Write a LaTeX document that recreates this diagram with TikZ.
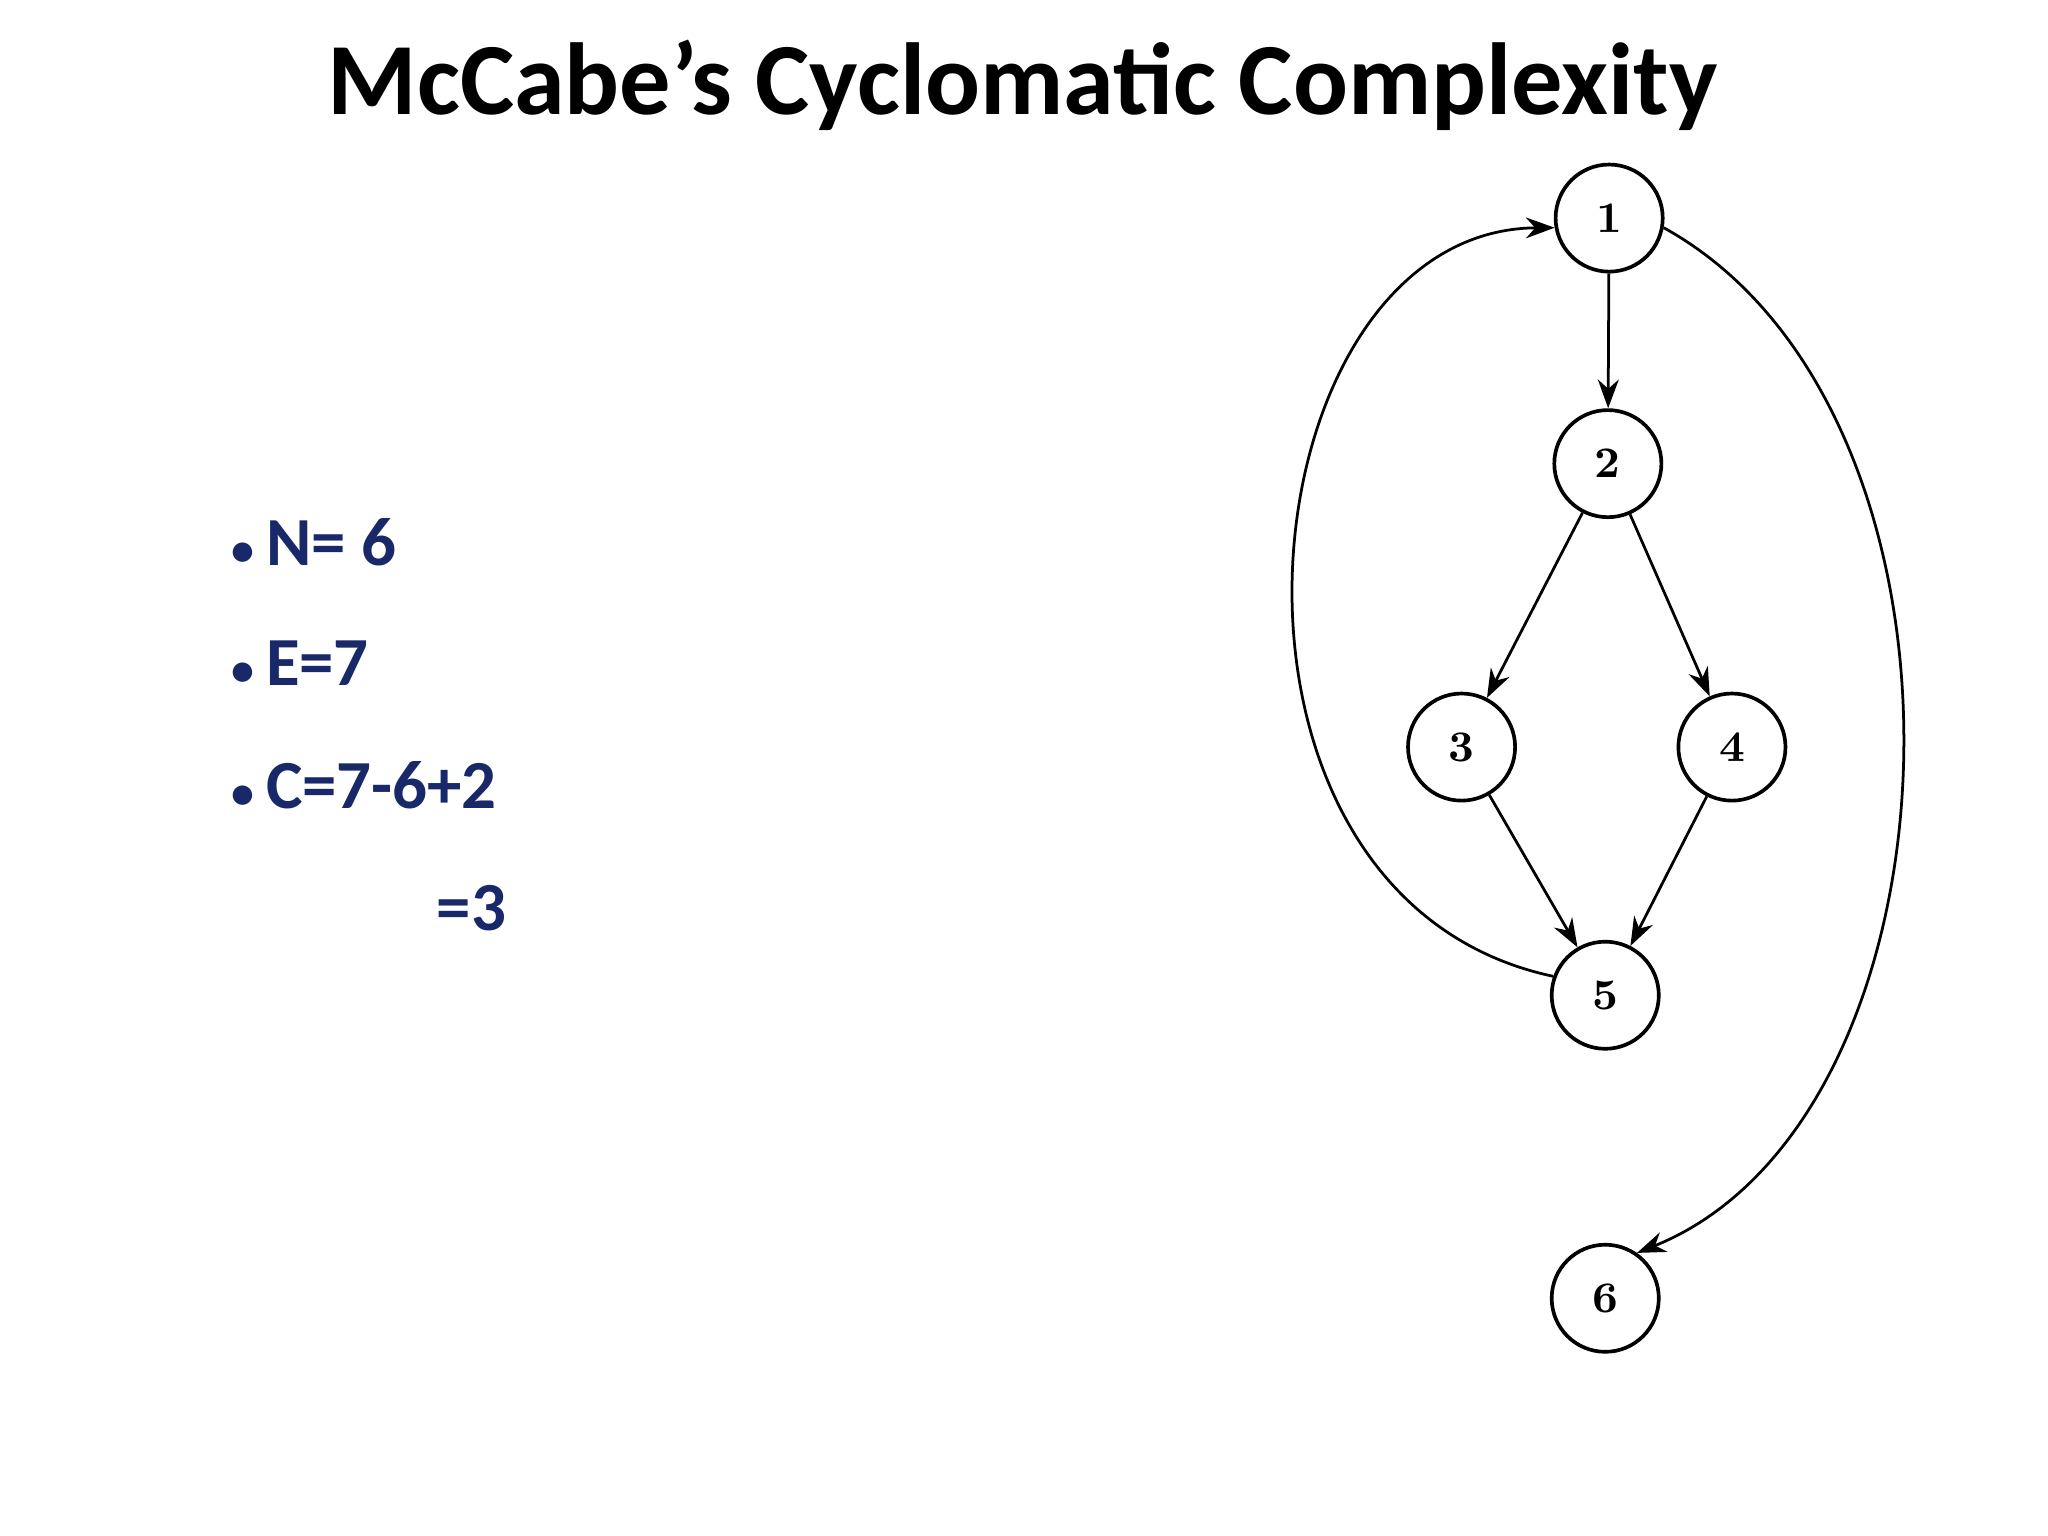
\documentclass[tikz,border=0pt]{standalone}
\usepackage{fontspec}
\setmainfont{Carlito}
\usetikzlibrary{arrows.meta}
\definecolor{bul}{RGB}{24,40,105}
\begin{document}
\begin{tikzpicture}[
  vtx/.style={circle,draw,line width=0.8pt,minimum size=0.82cm,inner sep=0pt,font=\fontspec{Latin Modern Roman}\fontsize{9.5}{11}\selectfont\bfseries},
  edge/.style={-{Stealth[length=2.2mm,width=1.6mm]},line width=0.6pt},
  bl/.style={anchor=west,text=bul,font=\fontsize{15}{18}\selectfont\bfseries}]
\useasboundingbox (0,0) rectangle (15.68,11.76);
\node[font=\fontsize{22.3}{26}\selectfont\bfseries] (title) at (7.83,11.11) {McCabe’s Cyclomatic Complexity};
\node[bl] (n) at (1.65,7.61) {{\fontsize{10}{12}\selectfont•}\,N= 6};
\node[bl] (e) at (1.65,6.68) {{\fontsize{10}{12}\selectfont•}\,E=7};
\node[bl] (c) at (1.65,5.75) {{\fontsize{10}{12}\selectfont•}\,C=7-6+2};
\node[bl] (r) at (3.22,4.81) {=3};
\node[vtx] (v1) at (12.32,10.09) {1};
\node[vtx] (v2) at (12.31,8.21) {2};
\node[vtx] (v3) at (11.19,6.04) {3};
\node[vtx] (v4) at (13.26,6.04) {4};
\node[vtx] (v5) at (12.29,4.14) {5};
\node[vtx] (v6) at (12.29,1.82) {6};
\draw[edge] (v1) -- (v2);
\draw[edge] (v2) -- (v3);
\draw[edge] (v2) -- (v4);
\draw[edge] (v3) -- (v5);
\draw[edge] (v4) -- (v5);
\draw[edge] (v5.160) .. controls (9.0,4.9) and (9.5,10.0) .. (v1.190);
\draw[edge] (v1.-10) .. controls (15.3,8.6) and (15.1,3.2) .. (v6.55);
\end{tikzpicture}
\end{document}
